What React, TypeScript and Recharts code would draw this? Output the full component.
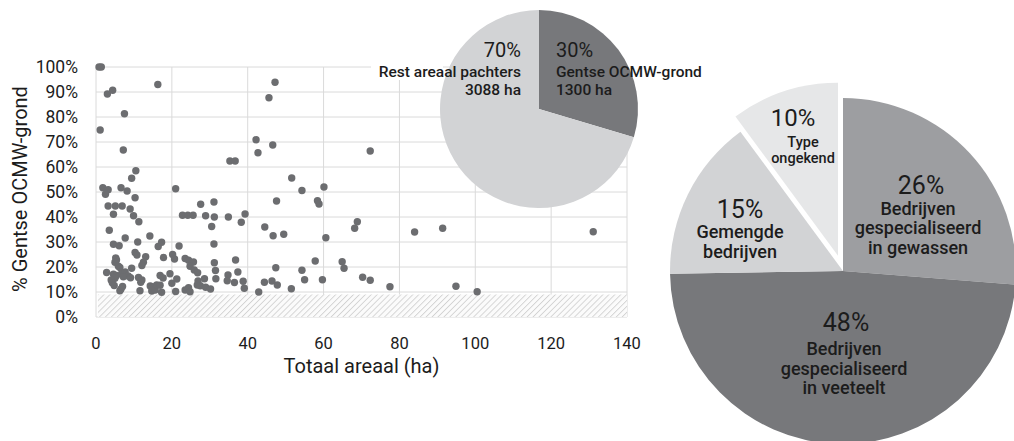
import React from 'react';
import {
  ScatterChart,
  Scatter,
  XAxis,
  YAxis,
  CartesianGrid,
  ReferenceArea,
  PieChart,
  Pie,
  Cell,
} from 'recharts';

// ---------- Scatter: Totaal areaal (ha) vs % Gentse OCMW-grond ----------
const areaal = [
  0.8, 1.4, 16.3, 3.0, 4.4, 7.5, 1.1, 7.2, 10.5, 9.4,
  1.8, 3.2, 2.5, 6.6, 8.2, 21, 10.3, 3.2, 5.1, 6.9,
  9, 4.6, 9.9, 11.3, 3.5, 7.7, 14.2, 4.6, 6.1, 11,
  16.4, 17.3, 21.9, 22.8, 24.2, 25.6, 27.6, 31.1, 28.9, 31.2,
  34.9, 39.3, 38.3, 30.5, 31.1, 35.3, 36.7, 42.2, 42.7, 45.6,
  47.2, 46.6, 47.6, 44.5, 46.7, 49.5, 51.6, 54.3, 60.1, 58.4,
  58.8, 60.6, 68.9, 68.2, 72.3, 84, 91.4, 131.1,
  31.2, 36.8, 31.5, 37.4, 34.8, 47.4, 54.3, 31.6, 34.6, 36.5,
  38.8, 39.1, 44.4, 46.4, 47.8, 42.9, 51.5, 55, 57.8, 64.9,
  65.4, 59.7, 70.3, 72.3, 77.5, 94.9, 100.5,
  10.3, 10.8, 5.2, 5.4, 5, 13.1, 12.5, 12.1, 17.8, 20.2,
  20.7, 23.5, 24.4, 25.7, 24.8, 25.9, 26.8, 5.9, 6.3, 9.4,
  2.8, 4.6, 5.4, 5, 6.8, 7.7, 8.5, 7.2, 4, 4.3,
  4.8, 6.6, 6.3, 7, 9.1, 11.2, 12.1, 11.8, 11.6, 14.3,
  15.1, 14.7, 15.6, 16, 17.3, 16.9, 17.7, 16.9, 19.5, 20,
  21.3, 21, 23.5, 24.4, 24.8, 26.9, 26.7, 27.5, 28.9, 30.2,
  28.6,
];

const aandeelOcmw = [
  100, 100, 93, 89.2, 90.7, 81.3, 74.8, 66.8, 58.5, 55.5,
  51.7, 50.9, 49.1, 51.7, 50.4, 51.3, 47.7, 44.4, 44.4, 44.4,
  43.2, 41.1, 40.5, 38.1, 34.7, 31.6, 32.4, 29.1, 28.5, 30,
  28.2, 29.9, 28.4, 40.7, 40.7, 40.7, 45.1, 46, 40.5, 40,
  40, 41.2, 37.9, 36.2, 29.2, 62.4, 62.4, 70.9, 65.7, 87.7,
  93.9, 68.8, 46.4, 36, 32.5, 33.1, 55.6, 50.6, 52, 46.5,
  45.2, 31.7, 38.1, 35.5, 66.4, 34, 35.5, 34.1,
  21.7, 22.8, 18.6, 18, 16.8, 19.7, 18.7, 15.3, 14.5, 13.8,
  14.3, 11.5, 13.9, 14.4, 12.8, 10, 11.3, 14.9, 22.4, 22.1,
  19.5, 14.9, 15.9, 14.7, 12.1, 12.3, 10.1,
  25.8, 24.8, 23.6, 22.8, 21.9, 24.1, 21.9, 20.6, 23.8, 25,
  23.2, 23.4, 22.7, 22, 20.3, 18.8, 17.7, 20.3, 19.8, 19.5,
  17.8, 17.1, 16.6, 15.5, 17.5, 18, 16.4, 16.1, 14.8, 13.7,
  12.6, 11.2, 10.5, 12.2, 15.7, 15.8, 14.8, 13.9, 10.5, 12.4,
  12, 10.4, 10.8, 12.8, 9.9, 16.6, 15.6, 12.7, 17.3, 13.5,
  15.2, 10.2, 10.8, 11.7, 10.1, 14.4, 12.8, 12.5, 11.9, 11.2,
  15.3,
];

const xTicks = [0, 20, 40, 60, 80, 100, 120, 140];
const yTicks = [0, 10, 20, 30, 40, 50, 60, 70, 80, 90, 100];
const thresholdBand = [0, 9];

// ---------- Small pie: areaal ----------
const areaalNames = ['Gentse OCMW-grond', 'Rest areaal pachters'];
const areaalHa = [1300, 3088];

// ---------- Large pie: bedrijfstype ----------
const typeLines = [
  ['Bedrijven', 'gespecialiseerd', 'in gewassen'],
  ['Bedrijven', 'gespecialiseerd', 'in veeteelt'],
  ['Gemengde', 'bedrijven'],
  ['Type', 'ongekend'],
];
const typeValues = [26, 48, 15, 10];

// ---------- styles ----------
const FONT = 'Roboto, "Noto Sans", sans-serif';
const TEXT = '#1c1c1c';
const DOT = '#6c6d70';
const GRID = '#dadada';
const smallColors = ['#77787b', '#d2d3d5'];
const typeColors = ['#9d9ea1', '#77787b', '#d2d3d5', '#e6e7e8'];

const scatterData = areaal.map((x, i) => ({ x, y: aandeelOcmw[i] }));
const areaalData = areaalNames.map((name, i) => ({ name, value: areaalHa[i] }));
const typeData = typeLines.map((lines, i) => ({ name: lines.join(' '), value: typeValues[i] }));

const SMALL_CX = 539;
const SMALL_CY = 109;
const BIG_CX = 843;
const BIG_CY = 271;
const BIG_R = 173;
const EXPLODE = 16;

const typeTotal = typeValues.reduce((a, b) => a + b, 0);
const beforeLast = typeValues.slice(0, 3).reduce((a, b) => a + b, 0);
const explodeAngle = ((beforeLast + typeValues[3] / 2) / typeTotal) * 2 * Math.PI;
const EX_CX = BIG_CX + Math.sin(explodeAngle) * EXPLODE;
const EX_CY = BIG_CY - Math.cos(explodeAngle) * EXPLODE;

const renderDot = (p: any) => <circle cx={p.cx} cy={p.cy} r={3.7} fill={DOT} />;

const renderYTitle = (props: any) => {
  const vb = props.viewBox || { x: 0, y: 67, width: 96, height: 250 };
  const x = vb.x + 20;
  const y = vb.y + vb.height / 2 - 3;
  return (
    <text
      x={x}
      y={y}
      transform={`rotate(-90, ${x}, ${y})`}
      textAnchor="middle"
      dominantBaseline="central"
      fontSize={20}
      fill={TEXT}
      fontFamily={FONT}
    >
      % Gentse OCMW-grond
    </text>
  );
};

const renderXTitle = (props: any) => {
  const vb = props.viewBox || { x: 96, y: 317, width: 531, height: 60 };
  return (
    <text
      x={vb.x + vb.width / 2}
      y={vb.y + 56}
      textAnchor="middle"
      fontSize={20}
      fill={TEXT}
      fontFamily={FONT}
    >
      Totaal areaal (ha)
    </text>
  );
};

const renderSmallLabel = (props: any) => {
  const { cx, cy, index, percent } = props;
  const pct = `${Math.round(percent * 100)}%`;
  const right = index === 1;
  const x = right ? cx - 18 : cx + 17;
  const anchor = right ? 'end' : 'start';
  const ha = `${areaalHa[index]} ha`;
  return (
    <g key={`sl-${index}`}>
      {right && <rect x={cx - 168} y={cy - 48} width={72} height={19} fill="#fff" />}
      <text x={x} y={cy - 52} textAnchor={anchor} fontSize={20} fill={TEXT} fontFamily={FONT}>
        {pct}
      </text>
      <text x={x} y={cy - 32} textAnchor={anchor} fontSize={15.5} fontWeight={500} fill={TEXT} fontFamily={FONT}>
        {areaalNames[index]}
      </text>
      <text x={x} y={cy - 14} textAnchor={anchor} fontSize={15.5} fontWeight={500} fill={TEXT} fontFamily={FONT}>
        {ha}
      </text>
    </g>
  );
};

const typeLabelLayout = [
  { pdx: 78, pdy: -77, ldx: 75, ldy: -56, gap: 19.3, fs: 18, pfs: 25 },
  { pdx: 3, pdy: 60, ldx: 1, ldy: 84, gap: 19.6, fs: 18, pfs: 25 },
  { pdx: -103, pdy: -53, ldx: -103, ldy: -33, gap: 19.6, fs: 18, pfs: 25 },
  { pdx: -45, pdy: -130, ldx: -35, ldy: -109, gap: 16.5, fs: 14.5, pfs: 24 },
];

const makeTypeLabel = (only: number[]) => (props: any) => {
  const { cx, cy, index, percent } = props;
  if (!only.includes(index)) return null;
  const l = typeLabelLayout[index];
  return (
    <g key={`tl-${index}`}>
      <text x={cx + l.pdx} y={cy + l.pdy} textAnchor="middle" fontSize={l.pfs} fill={TEXT} fontFamily={FONT}>
        {`${Math.round(percent * 100)}%`}
      </text>
      {typeLines[index].map((line, k) => (
        <text
          key={k}
          x={cx + l.ldx}
          y={cy + l.ldy + k * l.gap}
          textAnchor="middle"
          fontSize={l.fs}
          fontWeight={500}
          fill={TEXT}
          fontFamily={FONT}
        >
          {line}
        </text>
      ))}
    </g>
  );
};

const layer: React.CSSProperties = { position: 'absolute', left: 0, top: 0 };

export default function App() {
  return (
    <div
      style={{
        position: 'absolute',
        left: 0,
        top: 0,
        width: 1014,
        height: 441,
        overflow: 'hidden',
        background: '#fff',
        fontFamily: FONT,
      }}
    >
      <svg width={0} height={0} style={{ position: 'absolute' }}>
        <defs>
          <pattern id="hatch" width="4.2" height="4.2" patternUnits="userSpaceOnUse" patternTransform="rotate(45)">
            <rect width="4.2" height="4.2" fill="#fbfbfb" />
            <line x1="0" y1="0" x2="0" y2="4.2" stroke="#d2d2d2" strokeWidth="1.8" />
          </pattern>
        </defs>
      </svg>

      <div style={layer}>
        <ScatterChart width={1014} height={441} margin={{ top: 67, right: 387, bottom: 64, left: 0 }}>
          <CartesianGrid stroke={GRID} strokeWidth={1} />
          <XAxis
            type="number"
            dataKey="x"
            domain={[0, 140]}
            ticks={xTicks}
            interval={0}
            axisLine={false}
            tickLine={false}
            tickSize={0}
            tickMargin={20}
            height={60}
            tick={{ fontSize: 16.5, fill: TEXT, fontFamily: FONT }}
            label={{ content: renderXTitle }}
          />
          <YAxis
            type="number"
            dataKey="y"
            domain={[0, 100]}
            ticks={yTicks}
            interval={0}
            tickFormatter={(v: number) => `${v}%`}
            axisLine={false}
            tickLine={false}
            tickSize={0}
            tickMargin={18}
            width={96}
            tick={{ fontSize: 17.5, fill: TEXT, fontFamily: FONT }}
            label={{ content: renderYTitle }}
          />
          <ReferenceArea
            x1={0.5}
            x2={140}
            y1={thresholdBand[0]}
            y2={thresholdBand[1]}
            fill="url(#hatch)"
            fillOpacity={1}
            stroke="none"
          />
          <Scatter data={scatterData} shape={renderDot} isAnimationActive={false} />
        </ScatterChart>
      </div>

      <div style={layer}>
        <PieChart width={1014} height={441} margin={{ top: 0, right: 0, bottom: 0, left: 0 }}>
          <Pie
            data={areaalData}
            dataKey="value"
            cx={SMALL_CX}
            cy={SMALL_CY}
            outerRadius={99}
            startAngle={90}
            endAngle={-270}
            stroke="none"
            label={renderSmallLabel}
            labelLine={false}
            isAnimationActive={false}
          >
            {areaalData.map((d, i) => (
              <Cell key={d.name} fill={smallColors[i]} />
            ))}
          </Pie>
        </PieChart>
      </div>

      <div style={layer}>
        <PieChart width={1014} height={441} margin={{ top: 0, right: 0, bottom: 0, left: 0 }}>
          <Pie
            data={typeData}
            dataKey="value"
            cx={BIG_CX}
            cy={BIG_CY}
            outerRadius={BIG_R}
            startAngle={90}
            endAngle={-270}
            stroke="none"
            label={makeTypeLabel([0, 1, 2])}
            labelLine={false}
            isAnimationActive={false}
          >
            {typeData.map((d, i) => (
              <Cell key={d.name} fill={i === 3 ? 'none' : typeColors[i]} />
            ))}
          </Pie>
          <Pie
            data={typeData}
            dataKey="value"
            cx={EX_CX}
            cy={EX_CY}
            outerRadius={BIG_R}
            startAngle={90}
            endAngle={-270}
            stroke="none"
            label={makeTypeLabel([3])}
            labelLine={false}
            isAnimationActive={false}
          >
            {typeData.map((d, i) => (
              <Cell key={d.name} fill={i === 3 ? typeColors[3] : 'none'} />
            ))}
          </Pie>
        </PieChart>
      </div>
    </div>
  );
}
